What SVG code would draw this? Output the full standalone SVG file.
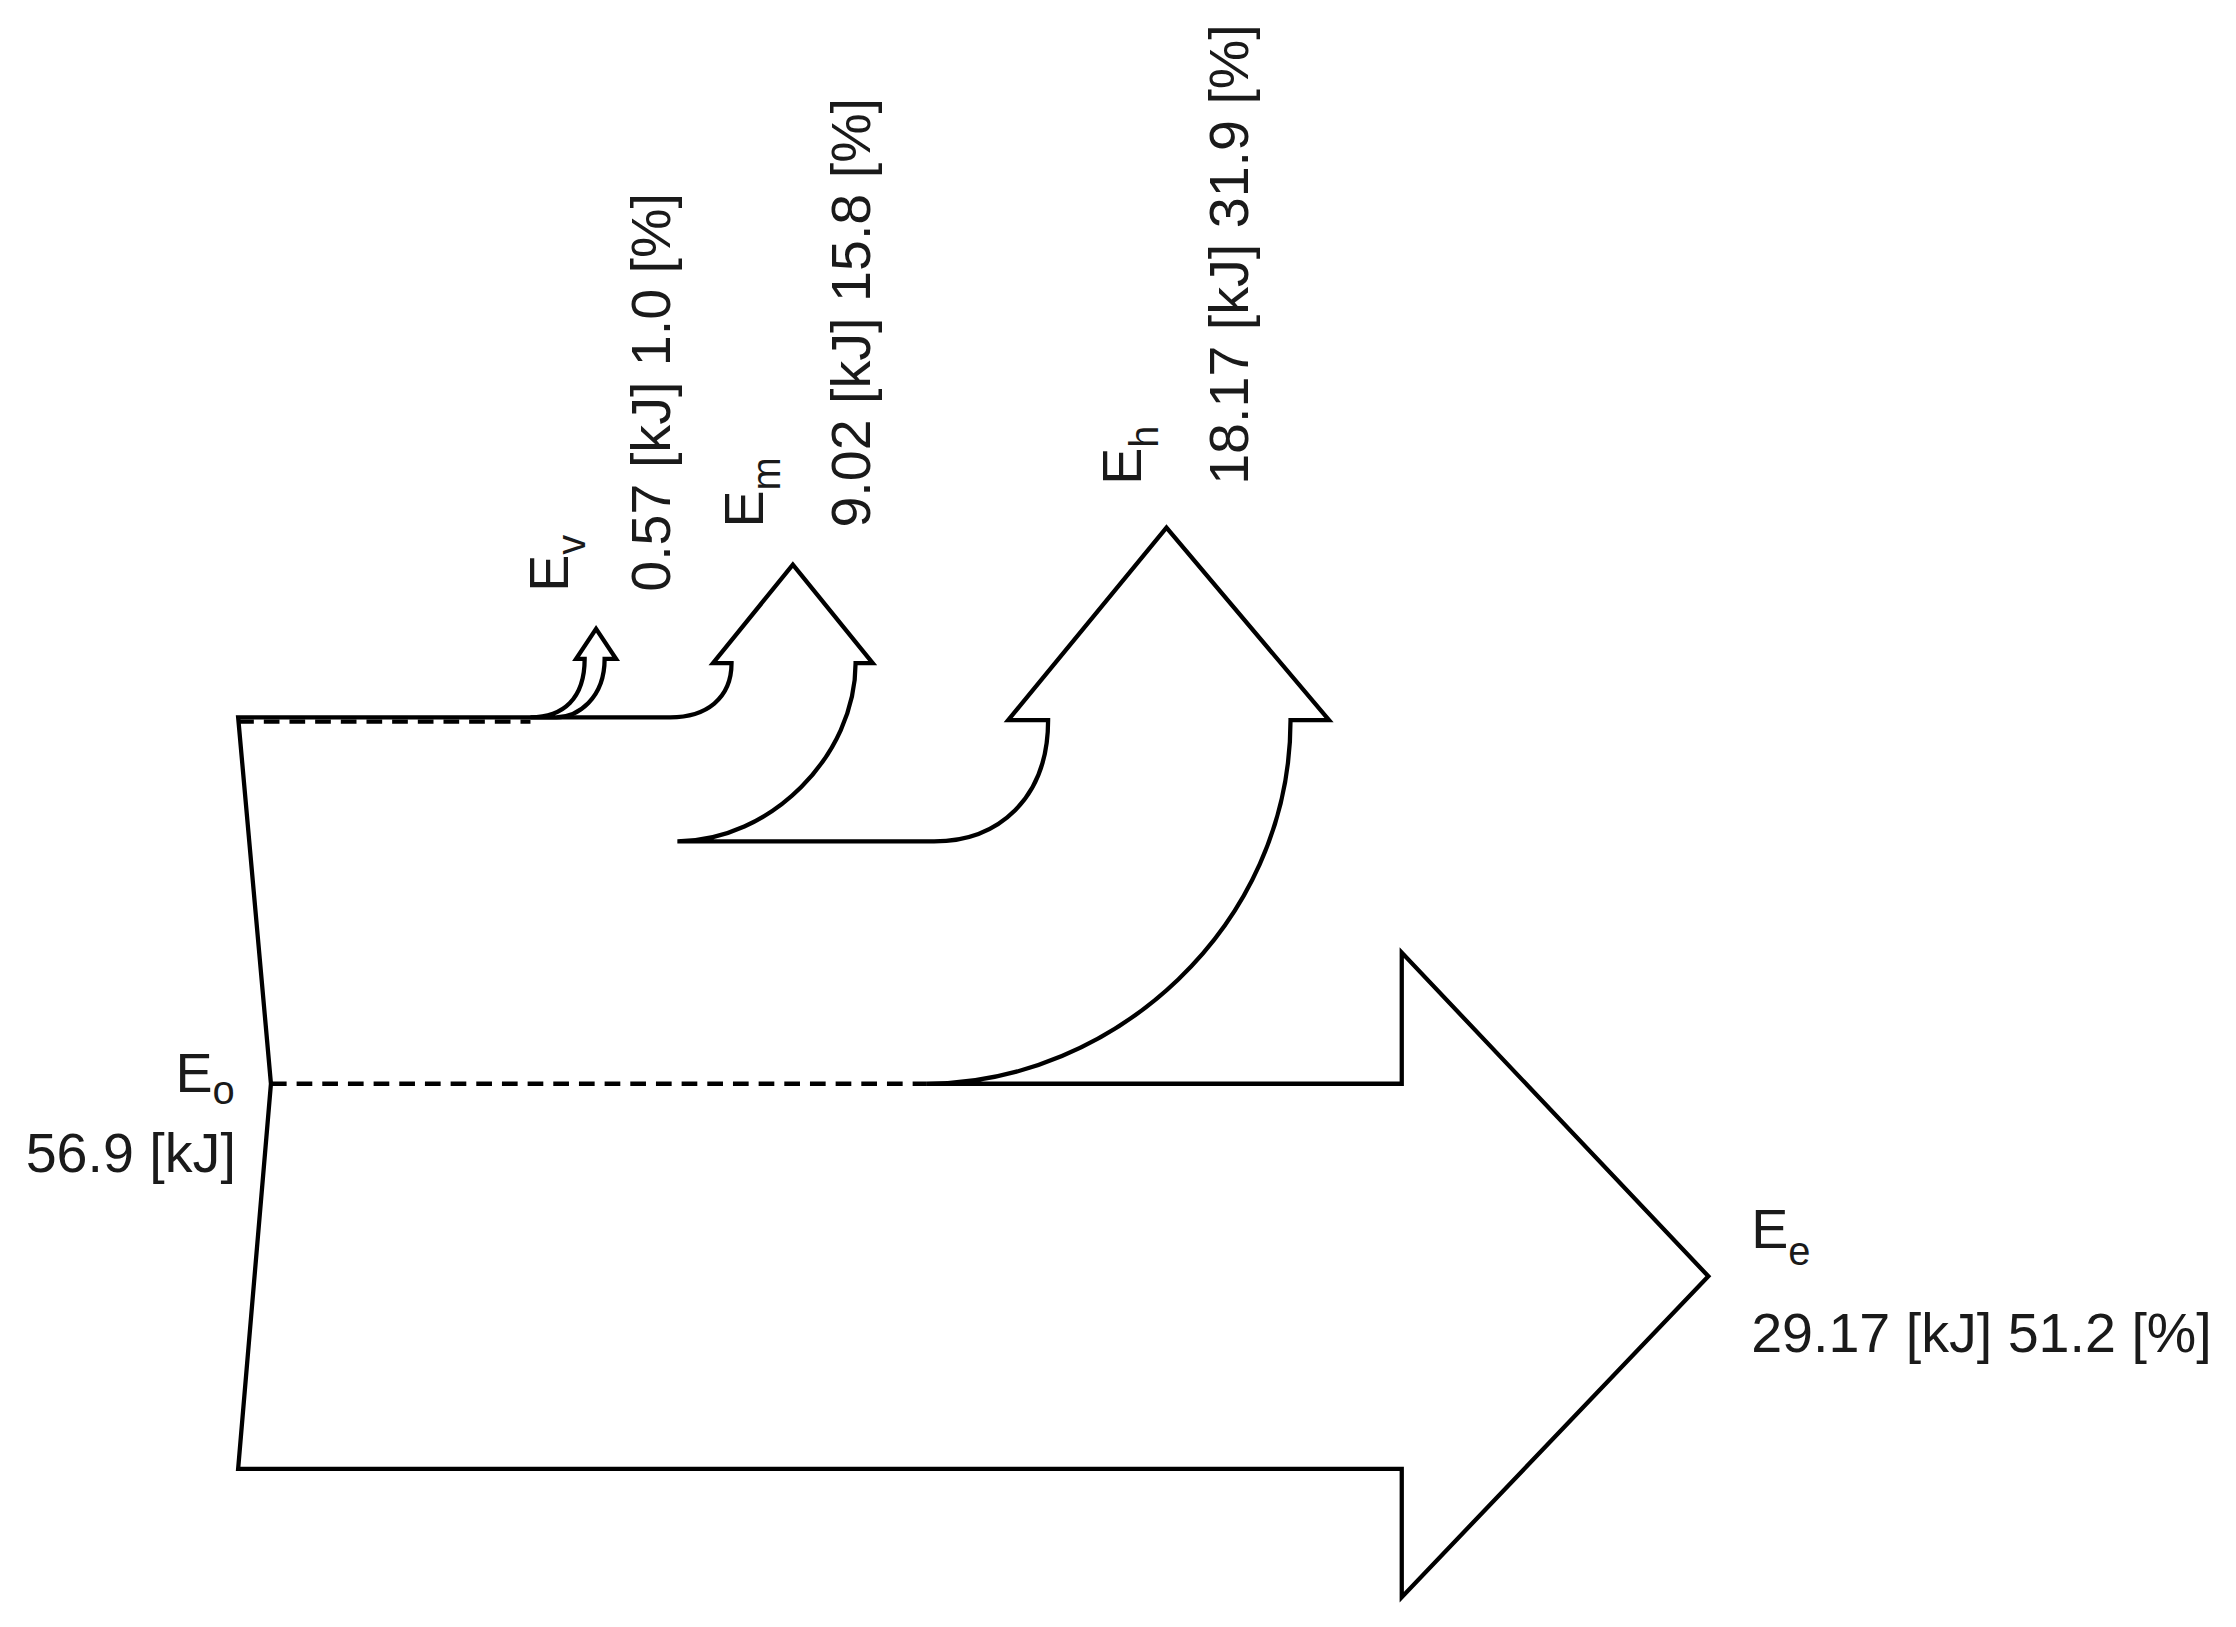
<svg xmlns="http://www.w3.org/2000/svg" width="2236" height="1627" viewBox="0 0 2236 1627">
<style>
.o{fill:#fff;stroke:#000;stroke-width:3;stroke-linejoin:miter}
.d{fill:none;stroke:#000;stroke-width:3;stroke-dasharray:11 7}
text{font-family:"Liberation Sans",Arial,sans-serif;font-size:39px;fill:#1a1a1a}
.s{font-size:28px}
</style>
<rect width="2236" height="1627" fill="#fff"/>
<g transform="scale(1.426)">
<g id="flows">
<path id="main" class="o" d="M167,503 L470,503 C495,503 513,490 513,465 L500,465 L556,396 L612,465 L600,465 C600,530 540,590 475,590 L655,590 C700,590 735,560 735,505 L707,505 L818,370 L932,505 L905,505 C905,650 780,760 650,760 L983,760 L983,668 L1198,895 L983,1120 L983,1030 L167,1030 L190,760 Z"/>
<path id="ev" class="o" d="M372,503 C395,503 410,490 410,462 L404,462 L418,441 L432,462 L424,462 C424,490 405,503 390,503 Z"/>
</g>
<g id="connectors">
<line class="d" x1="167" y1="506" x2="372" y2="506"/>
<line class="d" x1="190" y1="760" x2="650" y2="760"/>
</g>
<g id="labels">
<text x="123" y="766">E<tspan class="s" dy="8">o</tspan></text>
<text x="18" y="822">56.9 [kJ]</text>
<text x="1228" y="875">E<tspan class="s" dy="12">e</tspan></text>
<text x="1228" y="948">29.17 [kJ] 51.2 [%]</text>
<text transform="translate(398,415) rotate(-90)">E<tspan class="s" dy="12">v</tspan></text>
<text transform="translate(470,415) rotate(-90)">0.57 [kJ] 1.0 [%]</text>
<text transform="translate(535,370) rotate(-90)">E<tspan class="s" dy="12">m</tspan></text>
<text transform="translate(610,370) rotate(-90)">9.02 [kJ] 15.8 [%]</text>
<text transform="translate(800,340) rotate(-90)">E<tspan class="s" dy="12">h</tspan></text>
<text transform="translate(875,340) rotate(-90)">18.17 [kJ] 31.9 [%]</text>
</g>
</g>
</svg>
